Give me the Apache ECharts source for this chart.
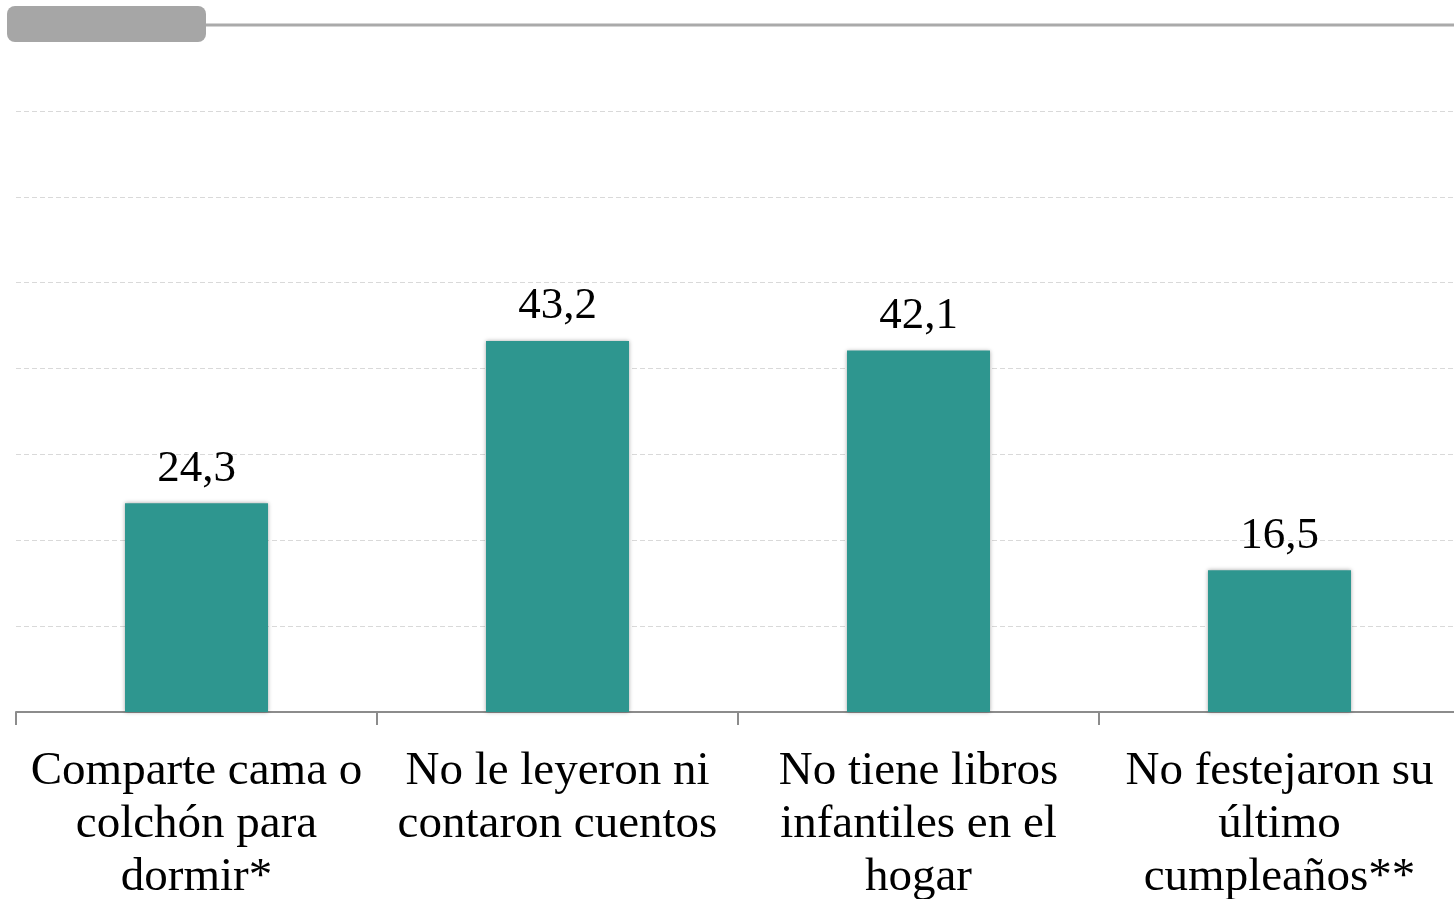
<!DOCTYPE html>
<html>
<head>
<meta charset="utf-8">
<script src="https://cdn.jsdelivr.net/npm/echarts@6/dist/echarts.min.js"></script>
<style>
html, body { margin: 0; padding: 0; background: #fff; }
#chart { width: 1454px; height: 899px; }
</style>
</head>
<body>
<div id="chart"></div>
<script>
// datos
var categorias = [
    'Comparte cama o\ncolchón para\ndormir*',
    'No le leyeron ni\ncontaron cuentos',
    'No tiene libros\ninfantiles en el\nhogar',
    'No festejaron su\núltimo\ncumpleaños**'
];
var valores = [24.3, 43.2, 42.1, 16.5];

var fuente = '"Liberation Serif", serif';

var myChart = echarts.init(document.getElementById('chart'));

var option = {
    animation: false,
    grid: {
        left: 16,
        top: 111,
        width: 1444,
        bottom: 187,
        outerBoundsMode: 'none',
        containLabel: false
    },
    graphic: [
        {
            type: 'line',
            shape: { x1: 200, y1: 25, x2: 1454, y2: 25 },
            style: { stroke: '#aaaaaa', lineWidth: 3 }
        },
        {
            type: 'rect',
            shape: { x: 7, y: 6, width: 199, height: 36, r: 8 },
            style: { fill: '#a6a6a6' }
        }
    ],
    xAxis: {
        type: 'category',
        data: categorias,
        axisLine: { lineStyle: { color: '#8c8c8c', width: 2 } },
        axisTick: { show: true, length: 13, lineStyle: { color: '#8c8c8c', width: 2 } },
        axisLabel: {
            color: '#000',
            fontFamily: fuente,
            fontSize: 47,
            lineHeight: 53,
            margin: 33,
            interval: 0
        }
    },
    yAxis: {
        type: 'value',
        min: 0,
        max: 70,
        interval: 10,
        axisLine: { show: false },
        axisTick: { show: false },
        axisLabel: { show: false },
        splitLine: { lineStyle: { color: '#d9d9d9', type: [5, 3], width: 1 } }
    },
    series: [
        {
            type: 'bar',
            data: valores,
            barWidth: 143,
            itemStyle: {
                color: '#2e968f',
                shadowBlur: 4,
                shadowColor: 'rgba(0,0,0,0.35)'
            },
            label: {
                show: true,
                position: 'top',
                distance: 12,
                color: '#000',
                fontFamily: fuente,
                fontSize: 45,
                formatter: function (p) {
                    return p.value.toFixed(1).replace('.', ',');
                }
            }
        }
    ]
};
myChart.setOption(option);
</script>
</body>
</html>
